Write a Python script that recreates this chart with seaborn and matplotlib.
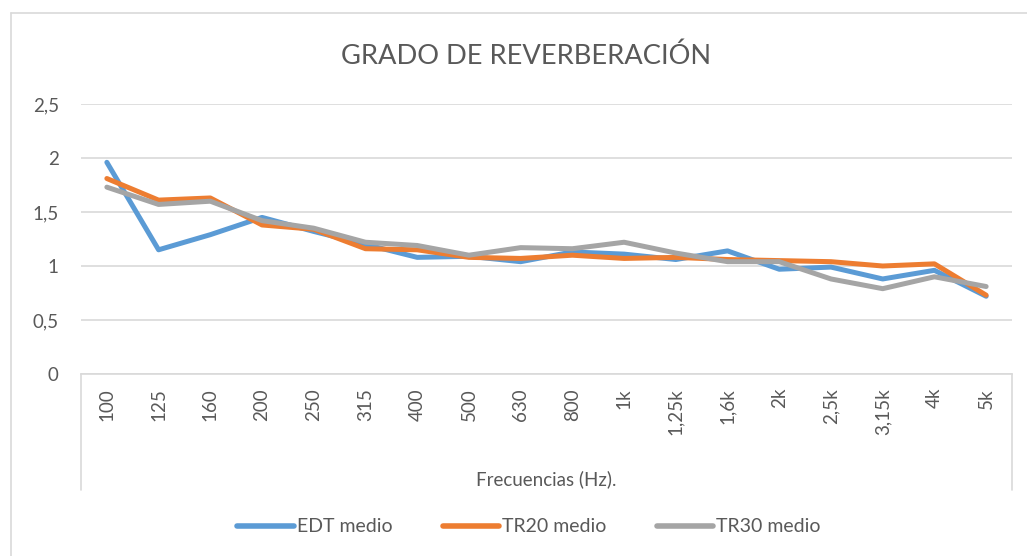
import numpy as np
import pandas as pd
import matplotlib
matplotlib.use("Agg")
import matplotlib.pyplot as plt
from matplotlib.lines import Line2D
import seaborn as sns

# Octave-third band centre frequencies and mean reverberation times (s)
frecuencias = ["100", "125", "160", "200", "250", "315", "400", "500", "630",
               "800", "1k", "1,25k", "1,6k", "2k", "2,5k", "3,15k", "4k", "5k"]
edt_medio = [1.96, 1.15, 1.29, 1.45, 1.32, 1.20, 1.08, 1.09, 1.04,
             1.13, 1.11, 1.06, 1.14, 0.97, 0.99, 0.88, 0.96, 0.72]
tr20_medio = [1.81, 1.61, 1.63, 1.38, 1.34, 1.16, 1.15, 1.08, 1.07,
              1.10, 1.07, 1.08, 1.06, 1.05, 1.04, 1.00, 1.02, 0.73]
tr30_medio = [1.73, 1.57, 1.60, 1.42, 1.35, 1.22, 1.19, 1.10, 1.17,
              1.16, 1.22, 1.12, 1.04, 1.04, 0.88, 0.79, 0.90, 0.81]
series = ["EDT medio", "TR20 medio", "TR30 medio"]
colores = ["#5B9BD5", "#ED7D31", "#A5A5A5"]
y_ticks = [0, 0.5, 1, 1.5, 2, 2.5]

pos = np.arange(len(frecuencias))
df = pd.DataFrame({
    "pos": np.concatenate([pos, pos, pos]),
    "valor": edt_medio + tr20_medio + tr30_medio,
    "serie": np.repeat(series, len(frecuencias)),
})

sns.set_theme(style="white")
plt.rcParams["font.family"] = ["Lato", "DejaVu Sans"]
texto = "#595959"
rejilla = "#D9D9D9"
fs = 13.5

fig = plt.figure(figsize=(10.27, 5.56), dpi=100)
ax = fig.add_axes([81 / 1027, (556 - 374) / 556, 931 / 1027, 270 / 556])

sns.lineplot(data=df, x="pos", y="valor", hue="serie", hue_order=series,
             palette=colores, linewidth=3.6, sort=False, legend=False, ax=ax,
             solid_joinstyle="round", solid_capstyle="round")

ax.set_xlim(-0.5, len(frecuencias) - 0.5)
ax.set_ylim(0, 2.5)
ax.set_yticks(y_ticks)
ax.set_yticklabels([f"{v:g}".replace(".", ",") for v in y_ticks],
                   fontsize=fs, color=texto)
ax.set_xticks(pos)
ax.set_xticklabels(frecuencias, rotation=90, fontsize=fs, color=texto,
                   va="top")
ax.tick_params(axis="x", length=0, pad=10)
ax.tick_params(axis="y", length=0, pad=16)
ax.grid(axis="y", color=rejilla, linewidth=1.2)
ax.set_axisbelow(True)
for lado in ["top", "right", "left"]:
    ax.spines[lado].set_visible(False)
ax.spines["bottom"].set_color(rejilla)
ax.spines["bottom"].set_linewidth(1.2)
ax.set_xlabel("Frecuencias (Hz).", fontsize=fs, color=texto, labelpad=26)
ax.set_ylabel("")

# Divider lines framing the category label area
for xa in (0, 1):
    ax.plot([xa, xa], [0, -116 / 270], transform=ax.transAxes, clip_on=False,
            color=rejilla, linewidth=1.2)

fig.text(526 / 1027, (556 - 56) / 556, "GRADO DE REVERBERACIÓN",
         ha="center", va="center", fontsize=19.6, color=texto)

handles = [Line2D([0], [0], color=c, linewidth=4, solid_capstyle="round")
           for c in colores]
fig.legend(handles, series, loc="center", bbox_to_anchor=(529 / 1027, 29 / 556),
           ncol=3, frameon=False, fontsize=14, handlelength=2.9,
           handletextpad=0.15, columnspacing=2.6, labelcolor=texto)

# Chart frame
fig.add_artist(Line2D([11 / 1027, 11 / 1027], [0, (556 - 13) / 556],
                      transform=fig.transFigure, color=rejilla, linewidth=1.2))
fig.add_artist(Line2D([11 / 1027, 1], [(556 - 13) / 556, (556 - 13) / 556],
                      transform=fig.transFigure, color=rejilla, linewidth=1.2))

fig.savefig("out.png", dpi=100, facecolor="white")
